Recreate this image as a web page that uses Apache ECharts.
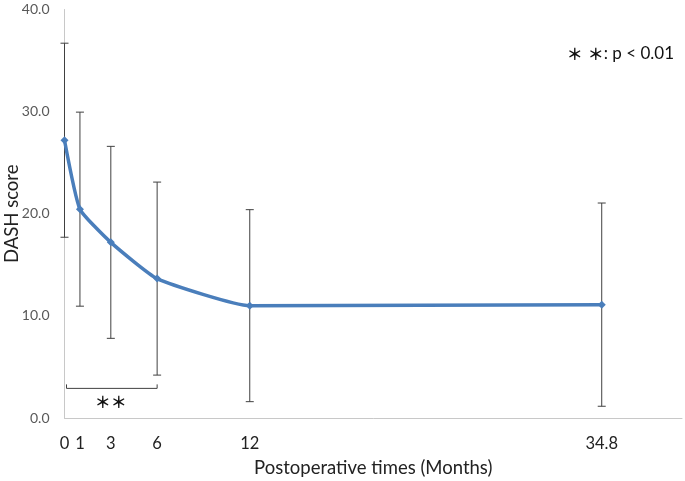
<!DOCTYPE html>
<html>
<head>
<meta charset="utf-8">
<script src="https://cdn.jsdelivr.net/npm/echarts@6/dist/echarts.min.js"></script>
<style>
html,body{margin:0;padding:0;background:#fff;}
#chart{width:685px;height:481px;}
</style>
</head>
<body>
<div id="chart"></div>
<script>
// Data
var months = [0, 1, 3, 6, 12, 34.8];
var dashMean = [27.2, 20.45, 17.2, 13.65, 11.0, 11.1];
var dashSD = [9.5, 9.5, 9.4, 9.45, 9.4, 9.95];
var xTickLabels = [0, 1, 3, 6, 12, 34.8];
var yTicks = [0, 10, 20, 30, 40];
var bracketRange = [0, 6];
var bracketLevel = 2.9;

var FONT = 'Lato, "Liberation Sans", sans-serif';
var STAR = '"Noto Sans CJK JP", sans-serif';

var lineData = months.map(function (m, i) { return [m, dashMean[i]]; });
var errData = months.map(function (m, i) { return [m, dashMean[i] - dashSD[i], dashMean[i] + dashSD[i]]; });

var chart = echarts.init(document.getElementById('chart'), null, { renderer: 'canvas' });
chart.setOption({
  backgroundColor: '#ffffff',
  animation: false,
  grid: { left: 64.5, right: 3, top: 9.5, bottom: 63, containLabel: false, outerBoundsMode: 'none' },
  xAxis: {
    type: 'value',
    min: 0,
    max: 40,
    name: 'Postoperative times (Months)',
    nameLocation: 'middle',
    nameGap: 41,
    nameMoveOverlap: false,
    nameTextStyle: { fontFamily: FONT, fontSize: 18.5, color: '#222' },
    axisLine: { show: true, lineStyle: { color: '#c8c8c8', width: 1 } },
    axisTick: { show: false },
    splitLine: { show: false },
    axisLabel: {
      customValues: xTickLabels,
      fontFamily: FONT,
      fontSize: 16.5,
      color: '#222',
      margin: 17,
      formatter: function (v) { return String(v); }
    }
  },
  yAxis: {
    type: 'value',
    min: 0,
    max: 40,
    interval: 10,
    name: 'DASH score',
    nameLocation: 'middle',
    nameGap: 43,
    nameMoveOverlap: false,
    nameRotate: 90,
    nameTextStyle: { fontFamily: FONT, fontSize: 18.5, color: '#222' },
    axisLine: { show: true, lineStyle: { color: '#c8c8c8', width: 1 } },
    axisTick: { show: false },
    splitLine: { show: false },
    axisLabel: {
      customValues: yTicks,
      fontFamily: FONT,
      fontSize: 14,
      color: '#595959',
      margin: 15,
      formatter: function (v) { return v.toFixed(1); }
    }
  },
  graphic: [
    {
      type: 'text',
      right: 11,
      top: 45,
      style: {
        text: '{a|\uFF0A}{s|\uFF0A}{t|: p < 0.01}',
        rich: {
          a: { fontFamily: STAR, fontSize: 16, fill: '#111', fontWeight: 'bold', padding: [0, 5, 0, 0] },
          s: { fontFamily: STAR, fontSize: 16, fill: '#111', fontWeight: 'bold' },
          t: { fontFamily: FONT, fontSize: 17, fill: '#111' }
        }
      }
    }
  ],
  series: [
    {
      type: 'custom',
      name: 'sd',
      z: 1,
      data: errData,
      renderItem: function (params, api) {
        var x = api.value(0);
        var lo = api.coord([x, api.value(1)]);
        var hi = api.coord([x, api.value(2)]);
        var w = 4;
        var st = { stroke: '#404040', lineWidth: 1 };
        return {
          type: 'group',
          children: [
            { type: 'line', shape: { x1: lo[0], y1: lo[1], x2: hi[0], y2: hi[1] }, style: st },
            { type: 'line', shape: { x1: lo[0] - w, y1: lo[1], x2: lo[0] + w, y2: lo[1] }, style: st },
            { type: 'line', shape: { x1: hi[0] - w, y1: hi[1], x2: hi[0] + w, y2: hi[1] }, style: st }
          ]
        };
      }
    },
    {
      type: 'line',
      name: 'DASH',
      z: 3,
      data: lineData,
      smooth: 0.15,
      symbol: 'diamond',
      symbolSize: 8,
      itemStyle: { color: '#4A7EBB' },
      lineStyle: { color: '#4A7EBB', width: 3.5 }
    },
    {
      type: 'custom',
      name: 'bracket',
      z: 2,
      data: [[bracketRange[0], bracketRange[1], bracketLevel]],
      renderItem: function (params, api) {
        var a = api.coord([api.value(0), api.value(2)]);
        var b = api.coord([api.value(1), api.value(2)]);
        var st = { stroke: '#404040', lineWidth: 1, fill: null };
        var h = 4;
        return {
          type: 'group',
          children: [
            { type: 'polyline', shape: { points: [[a[0] + 2, a[1] - h], [a[0] + 2, a[1]], [b[0], b[1]], [b[0], b[1] - h]] }, style: st },
            { type: 'text', style: { text: '\uFF0A\uFF0A', x: (a[0] + b[0]) / 2, y: a[1] + 14, align: 'center', verticalAlign: 'middle', font: 'bold 16px ' + STAR, fill: '#111' } }
          ]
        };
      }
    }
  ]
});
</script>
</body>
</html>
